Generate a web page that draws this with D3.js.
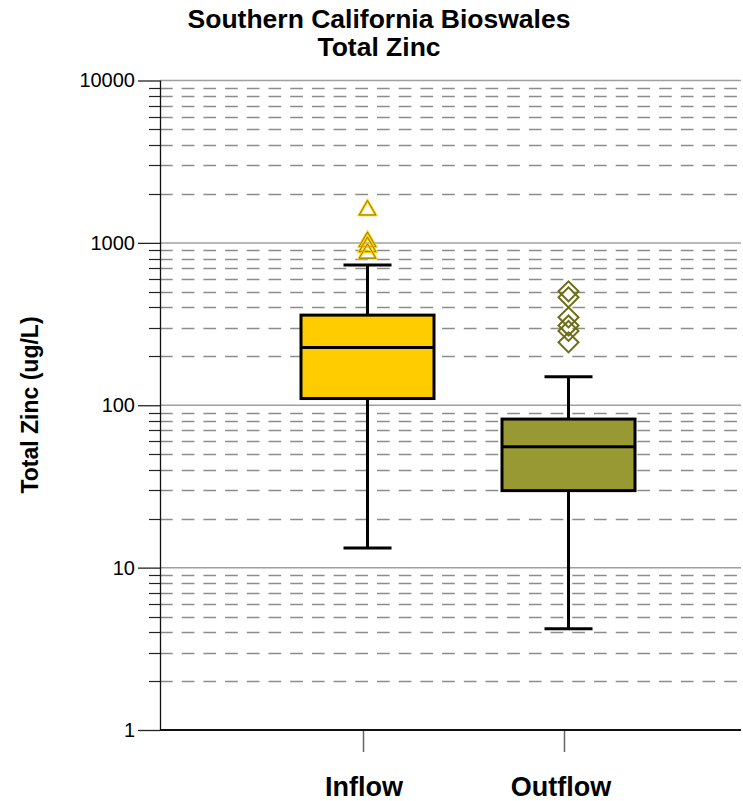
<!DOCTYPE html>
<html>
<head>
<meta charset="utf-8">
<script src="https://cdn.jsdelivr.net/npm/d3@7"></script>
<style>
  body { margin: 0; background: #fff; }
  text { font-family: Arial, "Liberation Sans", sans-serif; }
</style>
</head>
<body>
<div id="chart"></div>
<script>
// box plot stats (ug/L)
var groups = ["Inflow", "Outflow"];
var whiskerLow = [13.2, 4.2];
var q1 = [110, 29.8];
var median = [227, 55.5];
var q3 = [359, 82.2];
var whiskerHigh = [730, 150];
var inflowOutliers = [1590, 1016, 946, 861];
var outflowOutliers = [503, 462, 348, 310, 287, 244];
var yTicks = [1, 10, 100, 1000, 10000];
var fills = ["#FFCC00", "#999933"];

var W = 743, H = 801;
// plot box (don't call these top/left - window.top is read only)
var plotL = 160, plotR = 741, plotT = 80.5, plotB = 730;

var svg = d3.select("#chart").append("svg")
    .attr("width", W)
    .attr("height", H);

var y = d3.scaleLog().domain([1, 10000]).range([plotB, plotT]);
var x = d3.scalePoint().domain(groups).range([363, 564]);
var boxShift = 4.5;   // excel draws boxes a hair right of the tick
var boxHalf = 68, capHalf = 24;

// minor dashed grid lines 2..9 per decade
var minor = [];
for (var k = 0; k < 4; k++) {
  for (var m = 2; m <= 9; m++) minor.push(m * Math.pow(10, k));
}
svg.append("g").selectAll("line")
    .data(minor)
  .enter().append("line")
    .attr("x1", plotL).attr("x2", plotR)
    .attr("y1", d => Math.round(y(d)) + 0.5)
    .attr("y2", d => Math.round(y(d)) + 0.5)
    .attr("stroke", "#8c8c8c")
    .attr("stroke-width", 1.3)
    .attr("stroke-dasharray", "12.7,9");

// major solid grid lines
svg.append("g").selectAll("line")
    .data(yTicks.slice(1))
  .enter().append("line")
    .attr("x1", plotL).attr("x2", plotR)
    .attr("y1", d => y(d)).attr("y2", d => y(d))
    .attr("stroke", "#a0a0a0")
    .attr("stroke-width", 1.5);

// y axis
var yAxis = svg.append("g")
    .attr("transform", "translate(" + plotL + ",0)")
    .call(d3.axisLeft(y).tickValues(yTicks).tickFormat(d3.format("d")).tickSize(22).tickPadding(3));
yAxis.select(".domain").remove();
yAxis.selectAll(".tick line").attr("stroke", "#222").attr("stroke-width", 1.3);
yAxis.selectAll("text").attr("font-size", 20).attr("fill", "#000");

// minor ticks on y axis
svg.append("g").selectAll("line")
    .data(minor)
  .enter().append("line")
    .attr("x1", plotL - 11).attr("x2", plotL)
    .attr("y1", d => Math.round(y(d)) + 0.5)
    .attr("y2", d => Math.round(y(d)) + 0.5)
    .attr("stroke", "#222")
    .attr("stroke-width", 1.2);

svg.append("line")
    .attr("x1", plotL + 0.5).attr("x2", plotL + 0.5)
    .attr("y1", plotT).attr("y2", plotB)
    .attr("stroke", "#111").attr("stroke-width", 1.3);

// x axis
var xAxis = svg.append("g")
    .attr("transform", "translate(0," + plotB + ")")
    .call(d3.axisBottom(x).tickSize(22).tickFormat(""));
xAxis.select(".domain").remove();
xAxis.selectAll(".tick line").attr("stroke", "#666").attr("stroke-width", 1.5);
svg.append("line")
    .attr("x1", plotL).attr("x2", plotR)
    .attr("y1", plotB).attr("y2", plotB)
    .attr("stroke", "#111").attr("stroke-width", 2);

svg.append("g").selectAll("text")
    .data(groups)
  .enter().append("text")
    .attr("x", d => x(d) + (d == "Outflow" ? -3 : 1))
    .attr("y", 796)
    .attr("text-anchor", "middle")
    .attr("font-size", 27)
    .attr("font-weight", "bold")
    .text(d => d);

// boxes
var boxes = svg.append("g").selectAll("g")
    .data(groups)
  .enter().append("g")
    .attr("transform", d => "translate(" + (x(d) + boxShift) + ",0)");

boxes.append("line")
    .attr("x1", 0).attr("x2", 0)
    .attr("y1", (d, i) => y(whiskerLow[i]))
    .attr("y2", (d, i) => y(whiskerHigh[i]))
    .attr("stroke", "#000").attr("stroke-width", 3);
boxes.append("line")
    .attr("x1", -capHalf).attr("x2", capHalf)
    .attr("y1", (d, i) => y(whiskerLow[i])).attr("y2", (d, i) => y(whiskerLow[i]))
    .attr("stroke", "#000").attr("stroke-width", 3);
boxes.append("line")
    .attr("x1", -capHalf).attr("x2", capHalf)
    .attr("y1", (d, i) => y(whiskerHigh[i])).attr("y2", (d, i) => y(whiskerHigh[i]))
    .attr("stroke", "#000").attr("stroke-width", 3);
boxes.append("rect")
    .attr("x", -boxHalf + 1.5)
    .attr("width", boxHalf * 2 - 3)
    .attr("y", (d, i) => y(q3[i]))
    .attr("height", (d, i) => y(q1[i]) - y(q3[i]))
    .attr("fill", (d, i) => fills[i])
    .attr("stroke", "#000").attr("stroke-width", 3);
boxes.append("line")
    .attr("x1", -boxHalf + 1.5).attr("x2", boxHalf - 1.5)
    .attr("y1", (d, i) => y(median[i])).attr("y2", (d, i) => y(median[i]))
    .attr("stroke", "#000").attr("stroke-width", 3);

// outliers
var tri = d3.symbol().type(d3.symbolTriangle).size(120);
var inG = svg.append("g").selectAll("g")
    .data(inflowOutliers)
  .enter().append("g")
    .attr("transform", d => "translate(" + (x("Inflow") + boxShift) + "," + y(d) + ")");
inG.append("path").attr("d", tri).attr("fill", "none")
    .attr("stroke", "#FFCC00").attr("stroke-width", 2.6);
inG.append("path").attr("d", tri).attr("fill", "none")
    .attr("stroke", "#6b5a00").attr("stroke-width", 0.7);

var dia = d3.symbol().type(d3.symbolSquare).size(200);
svg.append("g").selectAll("path")
    .data(outflowOutliers)
  .enter().append("path")
    .attr("d", dia)
    .attr("transform", d => "translate(" + (x("Outflow") + boxShift) + "," + y(d) + ") rotate(45)")
    .attr("fill", "none")
    .attr("stroke", "#6e6e1a")
    .attr("stroke-width", 2);

// titles
svg.append("text")
    .attr("x", 379).attr("y", 28)
    .attr("text-anchor", "middle")
    .attr("font-size", 26.5).attr("font-weight", "bold")
    .text("Southern California Bioswales");
svg.append("text")
    .attr("x", 379).attr("y", 56)
    .attr("text-anchor", "middle")
    .attr("font-size", 26.5).attr("font-weight", "bold")
    .text("Total Zinc");
svg.append("text")
    .attr("transform", "translate(38,405) rotate(-90)")
    .attr("text-anchor", "middle")
    .attr("font-size", 23).attr("font-weight", "bold")
    .text("Total Zinc (ug/L)");
</script>
</body>
</html>
